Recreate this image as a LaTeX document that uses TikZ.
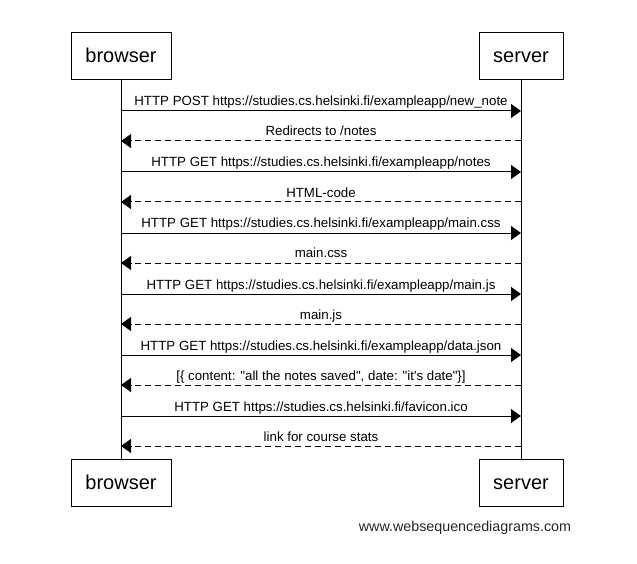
\documentclass[tikz,border=0pt]{standalone}
\usepackage{fontspec}
\newfontfamily\arialf{Liberation Sans}
\usetikzlibrary{arrows.meta}
\newcommand{\seqmsg}[3]{%
  \coordinate (b#1) at (121,#2);
  \coordinate (s#1) at (521,#2);
  \node[msgtext] (t#1) at (321,#2-5) {#3};
}
\begin{document}
\begin{tikzpicture}[x=1pt,y=-1pt,
  every node/.style={font=\arialf},
  actor/.style={draw=black, line width=1pt, minimum height=47pt, inner sep=0pt, text height=14.5pt, text depth=1.5pt, font=\arialf\fontsize{20}{24}\selectfont},
  msgtext/.style={anchor=base, inner sep=0pt, font=\arialf\fontsize{13.3}{15}\selectfont},
  req/.style={line width=1pt, -{Triangle[length=10pt,width=14pt]}},
  resp/.style={req, dash pattern=on 6pt off 4pt},
  life/.style={line width=1pt}]
\useasboundingbox (0,0) rectangle (637,564);
\node[actor, minimum width=100pt] (bt) at (121,56.5) {browser};
\node[actor, minimum width=84pt] (st) at (521,56.5) {server};
\node[actor, minimum width=100pt] (bb) at (121,482.5) {browser};
\node[actor, minimum width=84pt] (sb) at (521,482.5) {server};
\draw[life] (bt.south) -- (bb.north);
\draw[life] (st.south) -- (sb.north);
\seqmsg{1}{111}{HTTP POST https://studies.cs.helsinki.fi/exampleapp/new\_note}
\seqmsg{2}{141}{Redirects to /notes}
\seqmsg{3}{172}{HTTP GET https://studies.cs.helsinki.fi/exampleapp/notes}
\seqmsg{4}{202}{HTML-code}
\seqmsg{5}{233}{HTTP GET https://studies.cs.helsinki.fi/exampleapp/main.css}
\seqmsg{6}{263}{main.css}
\seqmsg{7}{294}{HTTP GET https://studies.cs.helsinki.fi/exampleapp/main.js}
\seqmsg{8}{324}{main.js}
\seqmsg{9}{355}{HTTP GET https://studies.cs.helsinki.fi/exampleapp/data.json}
\seqmsg{10}{385}{[\{ content: "all the notes saved", date: "it's date"\}]}
\seqmsg{11}{416}{HTTP GET https://studies.cs.helsinki.fi/favicon.ico}
\seqmsg{12}{446}{link for course stats}
\draw[req] (b1) -- (s1);
\draw[resp] (s2) -- (b2);
\draw[req] (b3) -- (s3);
\draw[resp] (s4) -- (b4);
\draw[req] (b5) -- (s5);
\draw[resp] (s6) -- (b6);
\draw[req] (b7) -- (s7);
\draw[resp] (s8) -- (b8);
\draw[req] (b9) -- (s9);
\draw[resp] (s10) -- (b10);
\draw[req] (b11) -- (s11);
\draw[resp] (s12) -- (b12);
\node[anchor=base, inner sep=0pt, text=black!85, font=\arialf\fontsize{14.3}{17}\selectfont] (wm) at (465,531) {www.websequencediagrams.com};
\end{tikzpicture}
\end{document}
